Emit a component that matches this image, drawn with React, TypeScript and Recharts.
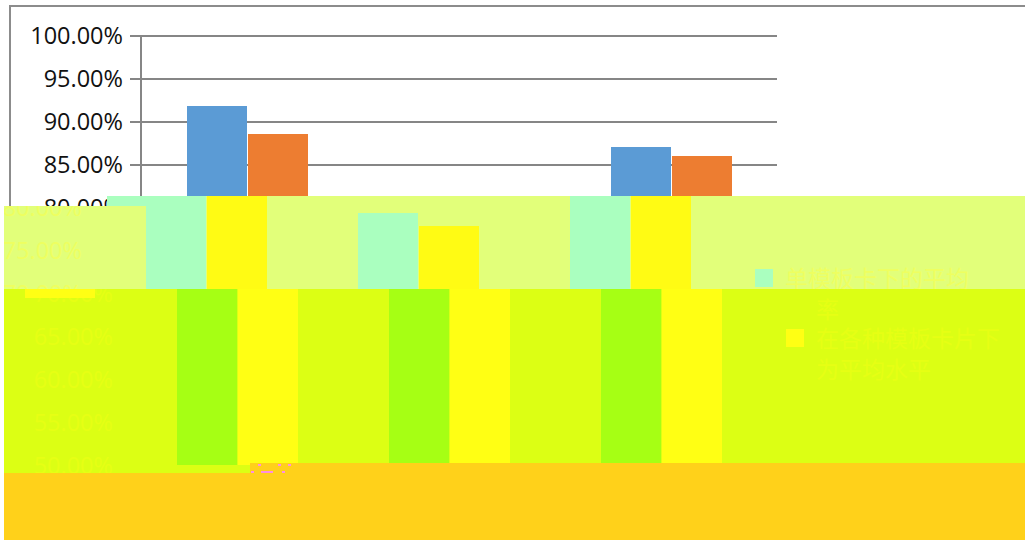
import { Bar, BarChart, CartesianGrid, Legend, XAxis, YAxis } from "recharts";

const categories = ["A", "B", "C"];
const seriesOne = [91.86, 79.42, 87.09];
const seriesTwo = [88.6, 77.9, 86.05];
const yTicks = [50, 55, 60, 65, 70, 75, 80, 85, 90, 95, 100];
// the legend text is almost unreadable in the picture, best guess
const seriesOneName = "单模板卡下的平均率";
const seriesTwoName = "在各种模板卡片下为平均水平";

const rows = categories.map((name, i) => ({ name, one: seriesOne[i], two: seriesTwo[i] }));

const plain = { bg: "#ffffff", one: "#5b9bd5", two: "#ed7d31", line: "#868686", text: "#111111" };
const pale = { bg: "#e2ff7a", one: "#aaffbf", two: "#fffb14", line: "#e2ff7a", text: "#eeff60" };
const vivid = { bg: "#dcff14", one: "#a6ff14", two: "#ffff14", line: "#dcff14", text: "#e6ff14" };

type Palette = typeof plain;

function LegendBox({ payload, colors }: { payload?: any[]; colors: Palette }) {
  return (
    <div style={{ width: 230 }}>
      {(payload ?? []).map((item) => (
        <div key={item.value} style={{ display: "flex", height: 60 }}>
          <div style={{ width: 18, height: 18, marginTop: 7, background: item.color, flexShrink: 0 }} />
          <div style={{ width: 190, marginLeft: 12, fontSize: 23, lineHeight: "31px", color: colors.text, fontFamily: "Noto Sans CJK SC" }}>
            {item.value}
          </div>
        </div>
      ))}
    </div>
  );
}

function Chart({ colors }: { colors: Palette }) {
  return (
    <BarChart
      width={1025}
      height={540}
      data={rows}
      margin={{ top: 36, right: 248, bottom: 44, left: 41 }}
      barSize={60}
      barGap={1}
    >
      <CartesianGrid horizontal vertical={false} stroke={colors.line} strokeWidth={2} />
      <XAxis dataKey="name" tick={false} height={30} axisLine={{ stroke: colors.line, strokeWidth: 2 }} tickLine={false} />
      <YAxis
        width={100}
        domain={[50, 100]}
        ticks={yTicks}
        interval={0}
        tickFormatter={(v: number) => v.toFixed(2) + "%"}
        tick={{ fontSize: 23.5, fill: colors.text, fontFamily: "Open Sans" }}
        tickSize={11}
        tickMargin={7}
        axisLine={{ stroke: colors.line, strokeWidth: 2 }}
        tickLine={{ stroke: colors.line, strokeWidth: 2 }}
      />
      <Legend
        layout="vertical"
        align="center"
        verticalAlign="middle"
        wrapperStyle={{ left: 796, top: 262, width: 230 }}
        content={(p: any) => <LegendBox payload={p.payload} colors={colors} />}
      />
      <Bar dataKey="one" name={seriesOneName} fill={colors.one} isAnimationActive={false} />
      <Bar dataKey="two" name={seriesTwoName} fill={colors.two} isAnimationActive={false} />
    </BarChart>
  );
}

// each slice shows the same chart, recoloured and slid sideways
function Slice({ x, y, w, h, shift, colors }: { x: number; y: number; w: number; h: number; shift: number; colors: Palette }) {
  return (
    <div style={{ position: "absolute", left: x, top: y, width: w, height: h, overflow: "hidden", background: colors.bg }}>
      <div style={{ position: "absolute", left: shift - x, top: -y, width: 1025, height: 540 }}>
        {colors === plain && (
          <div style={{ position: "absolute", left: 9, top: 5, width: 1100, height: 600, border: "2px solid #8c8c8c" }} />
        )}
        <Chart colors={colors} />
      </div>
    </div>
  );
}

function Patch({ x, y, w, h, c }: { x: number; y: number; w: number; h: number; c: string }) {
  return <div style={{ position: "absolute", left: x, top: y, width: w, height: h, background: c }} />;
}

export default function App() {
  return (
    <div style={{ position: "absolute", left: 0, top: 0, width: 1025, height: 540, overflow: "hidden", background: "#fff" }}>
      <Slice x={0} y={0} w={1025} h={206} shift={0} colors={plain} />
      <Slice x={4} y={206} w={103} h={83} shift={-41} colors={pale} />
      <Slice x={107} y={196} w={918} h={93} shift={-41} colors={pale} />
      <Patch x={107} y={196} w={39} h={10} c="#aaffbf" />
      <Slice x={4} y={289} w={1021} h={184} shift={-10} colors={vivid} />
      <Patch x={25} y={289} w={70} h={9} c="#ffff14" />
      <Patch x={4} y={473} w={246} h={67} c="#ffd11a" />
      <Patch x={250} y={463} w={775} h={77} c="#ffd11a" />
      <Patch x={258} y={464} w={3} h={2} c="#ff8fe0" />
      <Patch x={278} y={464} w={3} h={2} c="#ff8fe0" />
      <Patch x={288} y={464} w={3} h={2} c="#ff8fe0" />
      <Patch x={251} y={471} w={3} h={2} c="#ff8fe0" />
      <Patch x={261} y={471} w={12} h={2} c="#ff8fe0" />
      <Patch x={282} y={471} w={3} h={2} c="#ff8fe0" />
    </div>
  );
}
